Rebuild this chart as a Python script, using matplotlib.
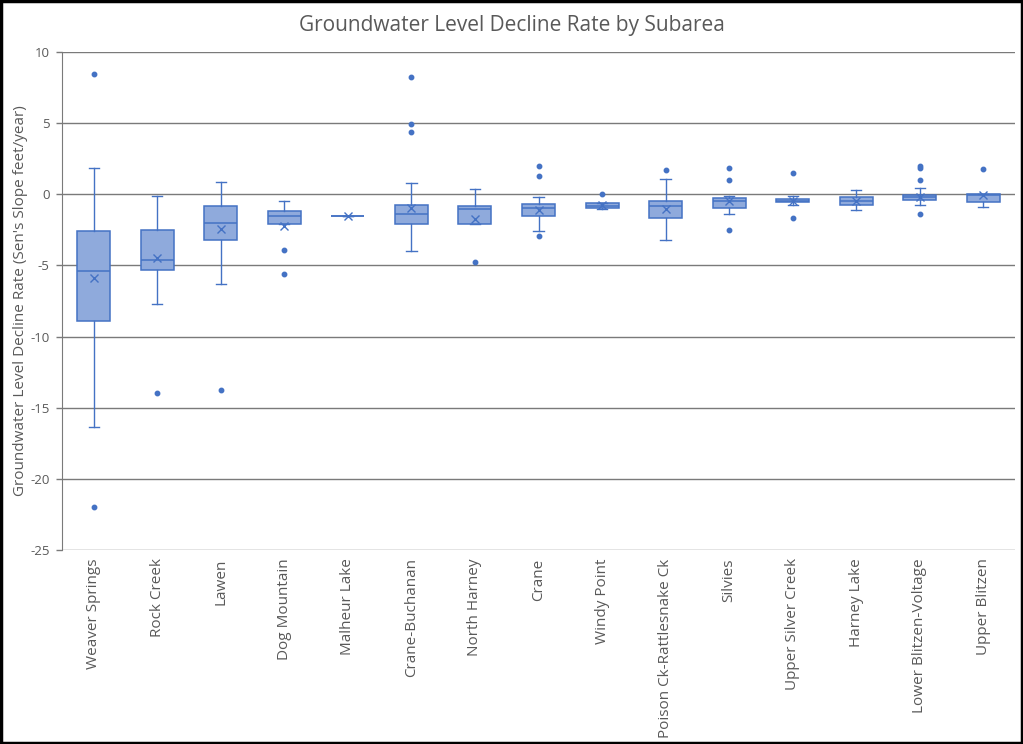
import matplotlib
matplotlib.use("Agg")
import matplotlib.pyplot as plt
from matplotlib.patches import Rectangle
from matplotlib.ticker import FuncFormatter

plt.rcParams['font.family'] = ['Open Sans', 'DejaVu Sans']

categories = ["Weaver Springs", "Rock Creek", "Lawen", "Dog Mountain", "Malheur Lake",
              "Crane-Buchanan", "North Harney", "Crane", "Windy Point",
              "Poison Ck-Rattlesnake Ck", "Silvies", "Upper Silver Creek", "Harney Lake",
              "Lower Blitzen-Voltage", "Upper Blitzen"]
whisker_low = [-16.37, -7.71, -6.28, -2.09, -1.5, -4.0, -2.09, -2.58, -1.0, -3.19, -1.36, -0.75, -1.1, -0.77, -0.91]
q1 =          [-8.9, -5.32, -3.19, -2.09, -1.5, -2.09, -2.09, -1.5, -0.98, -1.64, -0.98, -0.56, -0.77, -0.42, -0.56]
median =      [-5.39, -4.6, -2.04, -1.5, -1.5, -1.36, -1.05, -0.94, -0.8, -0.84, -0.47, -0.45, -0.45, -0.21, -0.02]
q3 =          [-2.58, -2.53, -0.82, -1.17, -1.5, -0.77, -0.84, -0.7, -0.63, -0.49, -0.28, -0.35, -0.17, -0.07, 0.02]
whisker_high = [1.87, -0.1, 0.84, -0.49, -1.5, 0.77, 0.39, -0.21, -0.6, 1.05, -0.1, -0.1, 0.3, 0.42, 0.02]
means =       [-5.88, -4.45, -2.44, -2.2, -1.5, -0.98, -1.71, -1.1, -0.75, -1.01, -0.5, -0.45, -0.45, -0.2, -0.07]
outliers = [
    [8.43, -22.0],
    [-13.99],
    [-13.73],
    [-3.89, -5.58],
    [],
    [8.22, 4.96, 4.38],
    [-4.76],
    [2.01, 1.29, -2.95],
    [0.0],
    [1.69],
    [1.83, 1.03, -2.49],
    [1.5, -1.67],
    [],
    [2.01, 1.85, 1.0, -1.41],
    [1.76],
]
yticks = [10, 5, 0, -5, -10, -15, -20, -25]

edge = '#4472C4'
fill = '#8FAADC'
textc = '#595959'

fig = plt.figure(figsize=(10.23, 7.44), dpi=100)
ax = fig.add_axes([62/1023, 1-550/744, (1015-62)/1023, (550-52)/744])

stats = []
for i, c in enumerate(categories):
    stats.append(dict(label=c, whislo=whisker_low[i], q1=q1[i], med=median[i],
                      q3=q3[i], whishi=whisker_high[i], mean=means[i], fliers=outliers[i]))

ax.bxp(stats, positions=range(len(categories)), widths=0.52, capwidths=0.16,
       patch_artist=True, showmeans=True, showfliers=True,
       boxprops=dict(facecolor=fill, edgecolor=edge, linewidth=1.1),
       medianprops=dict(color=edge, linewidth=1.1),
       whiskerprops=dict(color=edge, linewidth=1.0),
       capprops=dict(color=edge, linewidth=1.0),
       meanprops=dict(marker='x', markeredgecolor=edge, markersize=6, markeredgewidth=1.0),
       flierprops=dict(marker='o', markerfacecolor=edge, markeredgecolor=edge, markersize=3.2, linestyle='none'))

ax.set_xlim(-0.5, len(categories) - 0.5)
ax.set_ylim(-25, 10)
ax.set_yticks(yticks)
ax.yaxis.set_major_formatter(FuncFormatter(lambda v, p: "%d" % v))
ax.yaxis.grid(True, color='#7a7a7a', linewidth=1.0)
ax.set_axisbelow(True)
for s in ['top', 'right', 'bottom']:
    ax.spines[s].set_visible(False)
ax.spines['left'].set_color('#7a7a7a')
ax.tick_params(axis='y', colors=textc, labelsize=9.5, length=4, width=1.0, color='#7a7a7a', pad=5)
ax.tick_params(axis='x', colors=textc, labelsize=11, length=0, pad=6)
ax.set_xticks(range(len(categories)))
ax.set_xticklabels(categories, rotation=90, color=textc)
ax.set_ylabel("Groundwater Level Decline Rate (Sen's Slope feet/year)", color=textc, fontsize=11)
ax.yaxis.set_label_coords((28 - 62) / 953, 0.5)
fig.text(0.5, 1 - 26/744, "Groundwater Level Decline Rate by Subarea", ha='center', va='center',
         fontsize=15, color=textc)

fig.add_artist(Rectangle((0.001, 0.001), 0.998, 0.997, transform=fig.transFigure,
                         fill=False, edgecolor='black', linewidth=2.5))

fig.savefig("out.png", dpi=100)
